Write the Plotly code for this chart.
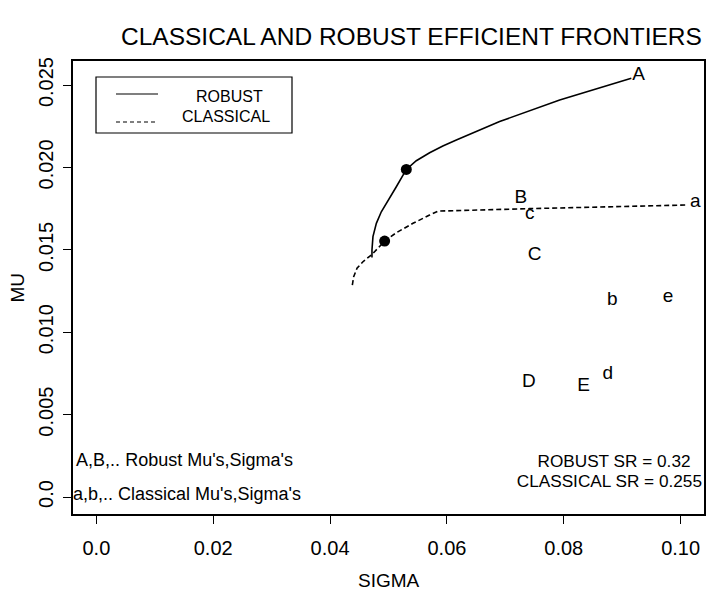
import plotly.graph_objects as go

# ---- data ----
robust_sigma = [0.04717, 0.04717, 0.04734, 0.04792, 0.04877, 0.04991, 0.05134, 0.05305,
                0.05476, 0.05704, 0.05930, 0.06161, 0.06902, 0.07930, 0.08615, 0.09156]
robust_mu = [0.01454, 0.01499, 0.01580, 0.01661, 0.01731, 0.01802, 0.01883, 0.01988,
             0.02041, 0.02089, 0.02130, 0.02166, 0.02279, 0.02409, 0.02485, 0.02541]

classical_sigma = [0.04381, 0.04404, 0.04461, 0.04563, 0.04717, 0.04934, 0.05134, 0.05419,
                   0.05704, 0.05847, 0.07416, 0.08842, 0.10097]
classical_mu = [0.01286, 0.01337, 0.01388, 0.01428, 0.01472, 0.01553, 0.01604, 0.01661,
                0.01711, 0.01735, 0.01750, 0.01762, 0.01772]

tangency_sigma = [0.05305, 0.04934]
tangency_mu = [0.01988, 0.01553]

robust_labels = ["A", "B", "C", "D", "E"]
robust_asset_sigma = [0.09281, 0.07266, 0.07502, 0.07404, 0.08340]
robust_asset_mu = [0.02561, 0.01812, 0.01468, 0.00694, 0.00674]

classical_labels = ["a", "b", "c", "d", "e"]
classical_asset_sigma = [0.10251, 0.08831, 0.07416, 0.08754, 0.09783]
classical_asset_mu = [0.01788, 0.01195, 0.01715, 0.00744, 0.01215]

x_tickvals = [0.0, 0.02, 0.04, 0.06, 0.08, 0.10]
x_ticktext = ["0.0", "0.02", "0.04", "0.06", "0.08", "0.10"]
y_tickvals = [0.0, 0.005, 0.010, 0.015, 0.020, 0.025]
y_ticktext = ["0.0", "0.005", "0.010", "0.015", "0.020", "0.025"]

notes = ["A,B,.. Robust Mu's,Sigma's", "a,b,.. Classical Mu's,Sigma's"]
notes_sigma = [0.0151, 0.0155]
notes_mu = [0.00215, 0.00010]
sr_text = ["ROBUST SR = 0.32", "CLASSICAL SR = 0.255"]
sr_sigma = [0.0886, 0.0878]
sr_mu = [0.00208, 0.00085]

FONT = "Liberation Sans, Arial, sans-serif"

fig = go.Figure()
fig.add_trace(go.Scatter(x=robust_sigma, y=robust_mu, mode="lines",
                         line=dict(color="black", width=1.6), showlegend=False))
fig.add_trace(go.Scatter(x=classical_sigma, y=classical_mu, mode="lines",
                         line=dict(color="black", width=1.6, dash="5px,3px"), showlegend=False))
fig.add_trace(go.Scatter(x=tangency_sigma, y=tangency_mu, mode="markers",
                         marker=dict(color="black", size=11), showlegend=False))
fig.add_trace(go.Scatter(x=robust_asset_sigma, y=robust_asset_mu, mode="text",
                         text=robust_labels, textposition="middle center", cliponaxis=False,
                         textfont=dict(family=FONT, size=19, color="black"), showlegend=False))
fig.add_trace(go.Scatter(x=classical_asset_sigma, y=classical_asset_mu, mode="text",
                         text=classical_labels, textposition="middle center", cliponaxis=False,
                         textfont=dict(family=FONT, size=19, color="black"), showlegend=False))
fig.add_trace(go.Scatter(x=notes_sigma, y=notes_mu, mode="text", text=notes,
                         textposition="middle center", cliponaxis=False,
                         textfont=dict(family=FONT, size=18, color="black"), showlegend=False))
fig.add_trace(go.Scatter(x=sr_sigma, y=sr_mu, mode="text", text=sr_text,
                         textposition="middle center", cliponaxis=False,
                         textfont=dict(family=FONT, size=17.2, color="black"), showlegend=False))

W, H = 715, 592
ml, mr, mt, mb = 73, 11, 61, 78
pw, ph = W - ml - mr, H - mt - mb


def px(xp):
    return (xp - ml) / pw


def py(yp):
    return 1 - (yp - mt) / ph


# legend box (manual, R style)
fig.add_shape(type="rect", xref="paper", yref="paper",
              x0=px(96), x1=px(292), y0=py(133), y1=py(77),
              line=dict(color="black", width=1.2))
fig.add_shape(type="line", xref="paper", yref="paper",
              x0=px(116), x1=px(158), y0=py(94), y1=py(94),
              line=dict(color="black", width=1.2))
fig.add_shape(type="line", xref="paper", yref="paper",
              x0=px(116), x1=px(158), y0=py(122), y1=py(122),
              line=dict(color="black", width=1.2, dash="4px,3px"))
fig.add_annotation(xref="paper", yref="paper", x=px(229), y=py(97), text="ROBUST",
                   showarrow=False, font=dict(family=FONT, size=16, color="black"),
                   xanchor="center", yanchor="middle")
fig.add_annotation(xref="paper", yref="paper", x=px(226), y=py(117), text="CLASSICAL",
                   showarrow=False, font=dict(family=FONT, size=16, color="black"),
                   xanchor="center", yanchor="middle")

# axis titles
fig.add_annotation(xref="paper", yref="paper", x=0.5, y=0, yshift=-(580 - 514),
                   text="SIGMA", showarrow=False,
                   font=dict(family=FONT, size=19, color="black"),
                   xanchor="center", yanchor="middle")
fig.add_annotation(xref="paper", yref="paper", x=0, xshift=-(73 - 17), y=0.5,
                   text="MU", showarrow=False, textangle=-90,
                   font=dict(family=FONT, size=19, color="black"),
                   xanchor="center", yanchor="middle")

# main title (slightly right of centre, as in the reference)
fig.add_annotation(xref="paper", yref="paper", x=px(411), y=py(37),
                   text="CLASSICAL AND ROBUST EFFICIENT FRONTIERS", showarrow=False,
                   font=dict(family=FONT, size=24.5, color="black"),
                   xanchor="center", yanchor="middle")

fig.update_layout(
    width=W, height=H,
    margin=dict(l=ml, r=mr, t=mt, b=mb),
    paper_bgcolor="white", plot_bgcolor="white",
    font=dict(family=FONT, color="black"),
    showlegend=False,
)
axis_common = dict(showgrid=False, zeroline=False, showline=True, mirror=True,
                   linecolor="black", linewidth=1.5, ticks="outside", ticklen=8,
                   tickwidth=1.3, tickcolor="black", automargin=False,
                   tickfont=dict(family=FONT, size=20, color="black"))
fig.update_xaxes(range=[-0.004, 0.104], tickvals=x_tickvals, ticktext=x_ticktext,
                 ticklabelstandoff=7, **axis_common)
fig.update_yaxes(range=[-0.00103, 0.02646], tickvals=y_tickvals, ticktext=y_ticktext,
                 tickangle=-90, ticklabelstandoff=2, **axis_common)

fig.write_html("out.html", config={"displayModeBar": False},
               post_script="document.body.style.margin='0';document.body.style.padding='0';")
